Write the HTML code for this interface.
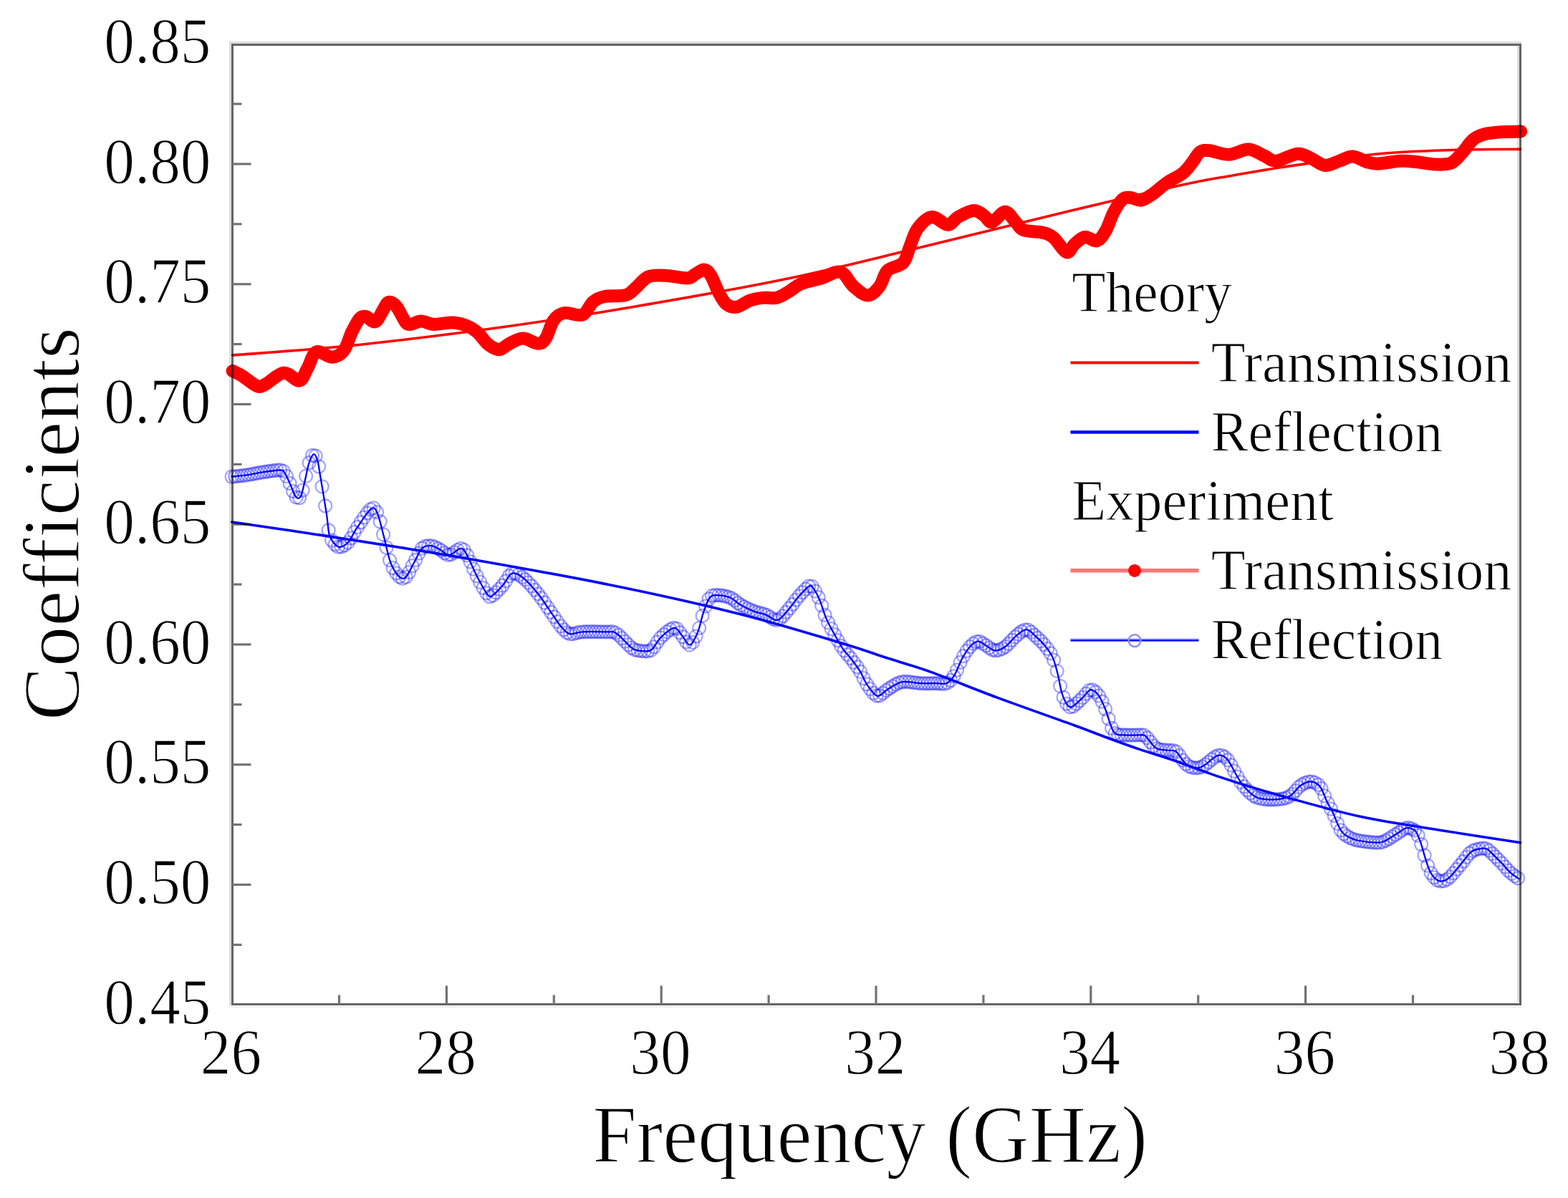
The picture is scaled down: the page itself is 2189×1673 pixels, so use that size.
<!DOCTYPE html>
<html><head><meta charset="utf-8"><title>Coefficients vs Frequency</title><style>html,body{margin:0;padding:0;background:#fff;}svg{display:block;}</style></head><body>
<svg width="2189" height="1673" viewBox="0 0 2189 1673">
<rect width="2189" height="1673" fill="#fff"/>
<g stroke="#dcdcdc" stroke-width="3" fill="none">
<line x1="321.5" y1="58" x2="321.5" y2="1404"/>
<line x1="321" y1="59.5" x2="2124" y2="59.5"/>
<line x1="2119.5" y1="64" x2="2119.5" y2="1400"/>
</g>
<line x1="321" y1="1406" x2="2124" y2="1406" stroke="#ebebeb" stroke-width="2"/>
<g stroke="#646464" stroke-width="3" fill="none">
<rect x="324.5" y="62.5" width="1798" height="1340"/>
</g>
<g stroke="#727272" stroke-width="3.2">
<line x1="324.5" y1="1319.4" x2="337.5" y2="1319.4"/>
<line x1="324.5" y1="1235.5" x2="350.5" y2="1235.5"/>
<line x1="324.5" y1="1151.6" x2="337.5" y2="1151.6"/>
<line x1="324.5" y1="1067.8" x2="350.5" y2="1067.8"/>
<line x1="324.5" y1="983.9" x2="337.5" y2="983.9"/>
<line x1="324.5" y1="900.0" x2="350.5" y2="900.0"/>
<line x1="324.5" y1="816.1" x2="337.5" y2="816.1"/>
<line x1="324.5" y1="732.2" x2="350.5" y2="732.2"/>
<line x1="324.5" y1="648.4" x2="337.5" y2="648.4"/>
<line x1="324.5" y1="564.5" x2="350.5" y2="564.5"/>
<line x1="324.5" y1="480.6" x2="337.5" y2="480.6"/>
<line x1="324.5" y1="396.8" x2="350.5" y2="396.8"/>
<line x1="324.5" y1="312.9" x2="337.5" y2="312.9"/>
<line x1="324.5" y1="229.0" x2="350.5" y2="229.0"/>
<line x1="324.5" y1="145.1" x2="337.5" y2="145.1"/>
<line x1="473.5" y1="1402.5" x2="473.5" y2="1389.5"/>
<line x1="623.4" y1="1402.5" x2="623.4" y2="1376.5"/>
<line x1="773.3" y1="1402.5" x2="773.3" y2="1389.5"/>
<line x1="923.2" y1="1402.5" x2="923.2" y2="1376.5"/>
<line x1="1073.1" y1="1402.5" x2="1073.1" y2="1389.5"/>
<line x1="1223.0" y1="1402.5" x2="1223.0" y2="1376.5"/>
<line x1="1372.9" y1="1402.5" x2="1372.9" y2="1389.5"/>
<line x1="1522.8" y1="1402.5" x2="1522.8" y2="1376.5"/>
<line x1="1672.7" y1="1402.5" x2="1672.7" y2="1389.5"/>
<line x1="1822.6" y1="1402.5" x2="1822.6" y2="1376.5"/>
<line x1="1972.5" y1="1402.5" x2="1972.5" y2="1389.5"/>
</g>
<defs><clipPath id="cp"><rect x="300" y="40" width="1850" height="1370"/></clipPath></defs>
<g clip-path="url(#cp)" fill="none" stroke-linecap="round" stroke-linejoin="round" style="mix-blend-mode:multiply">
<g stroke="rgba(0,0,255,0.36)" stroke-width="2.3" fill="none">
<circle cx="323.6" cy="665.7" r="9.0"/>
<circle cx="328.1" cy="665.3" r="9.0"/>
<circle cx="332.6" cy="664.8" r="9.0"/>
<circle cx="337.1" cy="664.3" r="9.0"/>
<circle cx="341.6" cy="663.8" r="9.0"/>
<circle cx="346.1" cy="663.1" r="9.0"/>
<circle cx="350.6" cy="662.4" r="9.0"/>
<circle cx="355.1" cy="661.5" r="9.0"/>
<circle cx="359.6" cy="660.7" r="9.0"/>
<circle cx="364.1" cy="659.9" r="9.0"/>
<circle cx="368.6" cy="659.2" r="9.0"/>
<circle cx="373.1" cy="658.5" r="9.0"/>
<circle cx="377.6" cy="657.8" r="9.0"/>
<circle cx="382.1" cy="657.2" r="9.0"/>
<circle cx="386.6" cy="656.7" r="9.0"/>
<circle cx="391.1" cy="656.5" r="9.0"/>
<circle cx="395.6" cy="657.9" r="9.0"/>
<circle cx="400.1" cy="665.1" r="9.0"/>
<circle cx="404.6" cy="675.0" r="9.0"/>
<circle cx="409.1" cy="686.1" r="9.0"/>
<circle cx="413.6" cy="694.4" r="9.0"/>
<circle cx="418.1" cy="695.3" r="9.0"/>
<circle cx="422.6" cy="684.6" r="9.0"/>
<circle cx="427.1" cy="664.9" r="9.0"/>
<circle cx="431.6" cy="646.2" r="9.0"/>
<circle cx="436.1" cy="636.0" r="9.0"/>
<circle cx="440.6" cy="636.6" r="9.0"/>
<circle cx="445.1" cy="651.5" r="9.0"/>
<circle cx="449.6" cy="679.4" r="9.0"/>
<circle cx="454.1" cy="706.5" r="9.0"/>
<circle cx="458.6" cy="740.5" r="9.0"/>
<circle cx="463.1" cy="754.6" r="9.0"/>
<circle cx="467.6" cy="760.2" r="9.0"/>
<circle cx="472.1" cy="763.7" r="9.0"/>
<circle cx="476.6" cy="763.5" r="9.0"/>
<circle cx="481.1" cy="761.3" r="9.0"/>
<circle cx="485.6" cy="757.6" r="9.0"/>
<circle cx="490.1" cy="751.5" r="9.0"/>
<circle cx="494.6" cy="743.2" r="9.0"/>
<circle cx="499.1" cy="736.1" r="9.0"/>
<circle cx="503.6" cy="729.3" r="9.0"/>
<circle cx="508.1" cy="722.6" r="9.0"/>
<circle cx="512.6" cy="716.5" r="9.0"/>
<circle cx="517.1" cy="711.4" r="9.0"/>
<circle cx="521.6" cy="709.4" r="9.0"/>
<circle cx="526.1" cy="715.2" r="9.0"/>
<circle cx="530.6" cy="728.5" r="9.0"/>
<circle cx="535.1" cy="746.4" r="9.0"/>
<circle cx="539.6" cy="764.8" r="9.0"/>
<circle cx="544.1" cy="782.4" r="9.0"/>
<circle cx="548.6" cy="793.2" r="9.0"/>
<circle cx="553.1" cy="800.4" r="9.0"/>
<circle cx="557.6" cy="805.5" r="9.0"/>
<circle cx="562.1" cy="807.9" r="9.0"/>
<circle cx="566.6" cy="805.8" r="9.0"/>
<circle cx="571.1" cy="799.1" r="9.0"/>
<circle cx="575.6" cy="790.2" r="9.0"/>
<circle cx="580.1" cy="782.0" r="9.0"/>
<circle cx="584.6" cy="772.6" r="9.0"/>
<circle cx="589.1" cy="765.7" r="9.0"/>
<circle cx="593.6" cy="762.9" r="9.0"/>
<circle cx="598.1" cy="762.1" r="9.0"/>
<circle cx="602.6" cy="762.3" r="9.0"/>
<circle cx="607.1" cy="763.8" r="9.0"/>
<circle cx="611.6" cy="766.1" r="9.0"/>
<circle cx="616.1" cy="768.7" r="9.0"/>
<circle cx="620.6" cy="772.2" r="9.0"/>
<circle cx="625.1" cy="774.8" r="9.0"/>
<circle cx="629.6" cy="774.3" r="9.0"/>
<circle cx="634.1" cy="771.4" r="9.0"/>
<circle cx="638.6" cy="768.1" r="9.0"/>
<circle cx="643.1" cy="765.9" r="9.0"/>
<circle cx="647.6" cy="767.9" r="9.0"/>
<circle cx="652.1" cy="775.5" r="9.0"/>
<circle cx="656.6" cy="784.5" r="9.0"/>
<circle cx="661.1" cy="794.7" r="9.0"/>
<circle cx="665.6" cy="804.3" r="9.0"/>
<circle cx="670.1" cy="812.9" r="9.0"/>
<circle cx="674.6" cy="821.0" r="9.0"/>
<circle cx="679.1" cy="828.3" r="9.0"/>
<circle cx="683.6" cy="833.2" r="9.0"/>
<circle cx="688.1" cy="831.3" r="9.0"/>
<circle cx="692.6" cy="827.4" r="9.0"/>
<circle cx="697.1" cy="822.7" r="9.0"/>
<circle cx="701.6" cy="817.7" r="9.0"/>
<circle cx="706.1" cy="811.4" r="9.0"/>
<circle cx="710.6" cy="804.3" r="9.0"/>
<circle cx="715.1" cy="800.6" r="9.0"/>
<circle cx="719.6" cy="800.6" r="9.0"/>
<circle cx="724.1" cy="802.6" r="9.0"/>
<circle cx="728.6" cy="805.7" r="9.0"/>
<circle cx="733.1" cy="809.3" r="9.0"/>
<circle cx="737.6" cy="813.6" r="9.0"/>
<circle cx="742.1" cy="818.5" r="9.0"/>
<circle cx="746.6" cy="823.8" r="9.0"/>
<circle cx="751.1" cy="829.3" r="9.0"/>
<circle cx="755.6" cy="835.2" r="9.0"/>
<circle cx="760.1" cy="841.6" r="9.0"/>
<circle cx="764.6" cy="848.3" r="9.0"/>
<circle cx="769.1" cy="855.0" r="9.0"/>
<circle cx="773.6" cy="861.5" r="9.0"/>
<circle cx="778.1" cy="868.1" r="9.0"/>
<circle cx="782.6" cy="874.3" r="9.0"/>
<circle cx="787.1" cy="879.4" r="9.0"/>
<circle cx="791.6" cy="883.5" r="9.0"/>
<circle cx="796.1" cy="885.4" r="9.0"/>
<circle cx="800.6" cy="885.1" r="9.0"/>
<circle cx="805.1" cy="883.8" r="9.0"/>
<circle cx="809.6" cy="882.8" r="9.0"/>
<circle cx="814.1" cy="882.4" r="9.0"/>
<circle cx="818.6" cy="882.2" r="9.0"/>
<circle cx="823.1" cy="882.2" r="9.0"/>
<circle cx="827.6" cy="882.2" r="9.0"/>
<circle cx="832.1" cy="882.2" r="9.0"/>
<circle cx="836.6" cy="882.3" r="9.0"/>
<circle cx="841.1" cy="882.3" r="9.0"/>
<circle cx="845.6" cy="882.4" r="9.0"/>
<circle cx="850.1" cy="882.4" r="9.0"/>
<circle cx="854.6" cy="882.2" r="9.0"/>
<circle cx="859.1" cy="883.6" r="9.0"/>
<circle cx="863.6" cy="886.9" r="9.0"/>
<circle cx="868.1" cy="891.2" r="9.0"/>
<circle cx="872.6" cy="895.8" r="9.0"/>
<circle cx="877.1" cy="900.4" r="9.0"/>
<circle cx="881.6" cy="904.6" r="9.0"/>
<circle cx="886.1" cy="907.3" r="9.0"/>
<circle cx="890.6" cy="908.4" r="9.0"/>
<circle cx="895.1" cy="909.1" r="9.0"/>
<circle cx="899.6" cy="909.4" r="9.0"/>
<circle cx="904.1" cy="909.5" r="9.0"/>
<circle cx="908.6" cy="908.1" r="9.0"/>
<circle cx="913.1" cy="903.4" r="9.0"/>
<circle cx="917.6" cy="896.6" r="9.0"/>
<circle cx="922.1" cy="890.6" r="9.0"/>
<circle cx="926.6" cy="886.3" r="9.0"/>
<circle cx="931.1" cy="882.4" r="9.0"/>
<circle cx="935.6" cy="879.2" r="9.0"/>
<circle cx="940.1" cy="877.0" r="9.0"/>
<circle cx="944.6" cy="877.8" r="9.0"/>
<circle cx="949.1" cy="883.4" r="9.0"/>
<circle cx="953.6" cy="889.4" r="9.0"/>
<circle cx="958.1" cy="896.5" r="9.0"/>
<circle cx="962.6" cy="900.6" r="9.0"/>
<circle cx="967.1" cy="897.1" r="9.0"/>
<circle cx="971.6" cy="888.6" r="9.0"/>
<circle cx="976.1" cy="877.1" r="9.0"/>
<circle cx="980.6" cy="859.9" r="9.0"/>
<circle cx="985.1" cy="846.6" r="9.0"/>
<circle cx="989.6" cy="836.4" r="9.0"/>
<circle cx="994.1" cy="831.9" r="9.0"/>
<circle cx="998.6" cy="831.2" r="9.0"/>
<circle cx="1003.1" cy="831.2" r="9.0"/>
<circle cx="1007.6" cy="831.7" r="9.0"/>
<circle cx="1012.1" cy="832.5" r="9.0"/>
<circle cx="1016.6" cy="833.6" r="9.0"/>
<circle cx="1021.1" cy="835.4" r="9.0"/>
<circle cx="1025.6" cy="838.5" r="9.0"/>
<circle cx="1030.1" cy="842.2" r="9.0"/>
<circle cx="1034.6" cy="845.1" r="9.0"/>
<circle cx="1039.1" cy="847.5" r="9.0"/>
<circle cx="1043.6" cy="849.8" r="9.0"/>
<circle cx="1048.1" cy="851.9" r="9.0"/>
<circle cx="1052.6" cy="853.7" r="9.0"/>
<circle cx="1057.1" cy="855.1" r="9.0"/>
<circle cx="1061.6" cy="856.3" r="9.0"/>
<circle cx="1066.1" cy="857.5" r="9.0"/>
<circle cx="1070.6" cy="859.2" r="9.0"/>
<circle cx="1075.1" cy="861.9" r="9.0"/>
<circle cx="1079.6" cy="864.8" r="9.0"/>
<circle cx="1084.1" cy="866.1" r="9.0"/>
<circle cx="1088.6" cy="864.4" r="9.0"/>
<circle cx="1093.1" cy="860.3" r="9.0"/>
<circle cx="1097.6" cy="855.0" r="9.0"/>
<circle cx="1102.1" cy="849.5" r="9.0"/>
<circle cx="1106.6" cy="844.0" r="9.0"/>
<circle cx="1111.1" cy="837.8" r="9.0"/>
<circle cx="1115.6" cy="832.3" r="9.0"/>
<circle cx="1120.1" cy="827.3" r="9.0"/>
<circle cx="1124.6" cy="822.7" r="9.0"/>
<circle cx="1129.1" cy="818.7" r="9.0"/>
<circle cx="1133.6" cy="818.9" r="9.0"/>
<circle cx="1138.1" cy="825.6" r="9.0"/>
<circle cx="1142.6" cy="834.2" r="9.0"/>
<circle cx="1147.1" cy="845.6" r="9.0"/>
<circle cx="1151.6" cy="859.0" r="9.0"/>
<circle cx="1156.1" cy="869.4" r="9.0"/>
<circle cx="1160.6" cy="878.1" r="9.0"/>
<circle cx="1165.1" cy="886.2" r="9.0"/>
<circle cx="1169.6" cy="894.3" r="9.0"/>
<circle cx="1174.1" cy="902.0" r="9.0"/>
<circle cx="1178.6" cy="908.6" r="9.0"/>
<circle cx="1183.1" cy="914.0" r="9.0"/>
<circle cx="1187.6" cy="919.2" r="9.0"/>
<circle cx="1192.1" cy="925.1" r="9.0"/>
<circle cx="1196.6" cy="931.3" r="9.0"/>
<circle cx="1201.1" cy="938.1" r="9.0"/>
<circle cx="1205.6" cy="947.2" r="9.0"/>
<circle cx="1210.1" cy="955.5" r="9.0"/>
<circle cx="1214.6" cy="962.1" r="9.0"/>
<circle cx="1219.1" cy="967.9" r="9.0"/>
<circle cx="1223.6" cy="971.5" r="9.0"/>
<circle cx="1228.1" cy="971.4" r="9.0"/>
<circle cx="1232.6" cy="968.0" r="9.0"/>
<circle cx="1237.1" cy="964.1" r="9.0"/>
<circle cx="1241.6" cy="961.2" r="9.0"/>
<circle cx="1246.1" cy="958.3" r="9.0"/>
<circle cx="1250.6" cy="955.6" r="9.0"/>
<circle cx="1255.1" cy="953.5" r="9.0"/>
<circle cx="1259.6" cy="952.2" r="9.0"/>
<circle cx="1264.1" cy="951.9" r="9.0"/>
<circle cx="1268.6" cy="952.2" r="9.0"/>
<circle cx="1273.1" cy="952.8" r="9.0"/>
<circle cx="1277.6" cy="953.4" r="9.0"/>
<circle cx="1282.1" cy="954.0" r="9.0"/>
<circle cx="1286.6" cy="954.3" r="9.0"/>
<circle cx="1291.1" cy="954.3" r="9.0"/>
<circle cx="1295.6" cy="954.3" r="9.0"/>
<circle cx="1300.1" cy="954.3" r="9.0"/>
<circle cx="1304.6" cy="954.2" r="9.0"/>
<circle cx="1309.1" cy="954.3" r="9.0"/>
<circle cx="1313.6" cy="954.8" r="9.0"/>
<circle cx="1318.1" cy="955.0" r="9.0"/>
<circle cx="1322.6" cy="953.6" r="9.0"/>
<circle cx="1327.1" cy="950.2" r="9.0"/>
<circle cx="1331.6" cy="944.3" r="9.0"/>
<circle cx="1336.1" cy="935.6" r="9.0"/>
<circle cx="1340.6" cy="925.0" r="9.0"/>
<circle cx="1345.1" cy="916.2" r="9.0"/>
<circle cx="1349.6" cy="909.0" r="9.0"/>
<circle cx="1354.1" cy="903.2" r="9.0"/>
<circle cx="1358.6" cy="898.9" r="9.0"/>
<circle cx="1363.1" cy="896.2" r="9.0"/>
<circle cx="1367.6" cy="896.0" r="9.0"/>
<circle cx="1372.1" cy="898.6" r="9.0"/>
<circle cx="1376.6" cy="901.4" r="9.0"/>
<circle cx="1381.1" cy="904.6" r="9.0"/>
<circle cx="1385.6" cy="907.5" r="9.0"/>
<circle cx="1390.1" cy="908.5" r="9.0"/>
<circle cx="1394.6" cy="907.7" r="9.0"/>
<circle cx="1399.1" cy="905.8" r="9.0"/>
<circle cx="1403.6" cy="903.0" r="9.0"/>
<circle cx="1408.1" cy="899.0" r="9.0"/>
<circle cx="1412.6" cy="894.0" r="9.0"/>
<circle cx="1417.1" cy="889.4" r="9.0"/>
<circle cx="1421.6" cy="885.5" r="9.0"/>
<circle cx="1426.1" cy="882.0" r="9.0"/>
<circle cx="1430.6" cy="879.6" r="9.0"/>
<circle cx="1435.1" cy="879.7" r="9.0"/>
<circle cx="1439.6" cy="882.7" r="9.0"/>
<circle cx="1444.1" cy="887.0" r="9.0"/>
<circle cx="1448.6" cy="891.0" r="9.0"/>
<circle cx="1453.1" cy="895.3" r="9.0"/>
<circle cx="1457.6" cy="900.2" r="9.0"/>
<circle cx="1462.1" cy="905.8" r="9.0"/>
<circle cx="1466.6" cy="912.3" r="9.0"/>
<circle cx="1471.1" cy="921.8" r="9.0"/>
<circle cx="1475.6" cy="937.1" r="9.0"/>
<circle cx="1480.1" cy="958.1" r="9.0"/>
<circle cx="1484.6" cy="973.9" r="9.0"/>
<circle cx="1489.1" cy="982.8" r="9.0"/>
<circle cx="1493.6" cy="987.4" r="9.0"/>
<circle cx="1498.1" cy="986.3" r="9.0"/>
<circle cx="1502.6" cy="982.7" r="9.0"/>
<circle cx="1507.1" cy="978.5" r="9.0"/>
<circle cx="1511.6" cy="974.1" r="9.0"/>
<circle cx="1516.1" cy="968.9" r="9.0"/>
<circle cx="1520.6" cy="964.1" r="9.0"/>
<circle cx="1525.1" cy="963.5" r="9.0"/>
<circle cx="1529.6" cy="966.5" r="9.0"/>
<circle cx="1534.1" cy="971.7" r="9.0"/>
<circle cx="1538.6" cy="979.8" r="9.0"/>
<circle cx="1543.1" cy="990.2" r="9.0"/>
<circle cx="1547.6" cy="1003.8" r="9.0"/>
<circle cx="1552.1" cy="1016.9" r="9.0"/>
<circle cx="1556.6" cy="1024.0" r="9.0"/>
<circle cx="1561.1" cy="1026.2" r="9.0"/>
<circle cx="1565.6" cy="1026.3" r="9.0"/>
<circle cx="1570.1" cy="1026.5" r="9.0"/>
<circle cx="1574.6" cy="1026.7" r="9.0"/>
<circle cx="1579.1" cy="1026.7" r="9.0"/>
<circle cx="1583.6" cy="1026.6" r="9.0"/>
<circle cx="1588.1" cy="1026.4" r="9.0"/>
<circle cx="1592.6" cy="1026.4" r="9.0"/>
<circle cx="1597.1" cy="1026.7" r="9.0"/>
<circle cx="1601.6" cy="1030.5" r="9.0"/>
<circle cx="1606.1" cy="1036.2" r="9.0"/>
<circle cx="1610.6" cy="1041.7" r="9.0"/>
<circle cx="1615.1" cy="1045.4" r="9.0"/>
<circle cx="1619.6" cy="1046.9" r="9.0"/>
<circle cx="1624.1" cy="1047.2" r="9.0"/>
<circle cx="1628.6" cy="1047.7" r="9.0"/>
<circle cx="1633.1" cy="1047.9" r="9.0"/>
<circle cx="1637.6" cy="1048.1" r="9.0"/>
<circle cx="1642.1" cy="1049.7" r="9.0"/>
<circle cx="1646.6" cy="1055.1" r="9.0"/>
<circle cx="1651.1" cy="1061.7" r="9.0"/>
<circle cx="1655.6" cy="1067.0" r="9.0"/>
<circle cx="1660.1" cy="1070.4" r="9.0"/>
<circle cx="1664.6" cy="1071.8" r="9.0"/>
<circle cx="1669.1" cy="1072.3" r="9.0"/>
<circle cx="1673.6" cy="1072.2" r="9.0"/>
<circle cx="1678.1" cy="1070.7" r="9.0"/>
<circle cx="1682.6" cy="1067.8" r="9.0"/>
<circle cx="1687.1" cy="1064.3" r="9.0"/>
<circle cx="1691.6" cy="1060.5" r="9.0"/>
<circle cx="1696.1" cy="1057.1" r="9.0"/>
<circle cx="1700.6" cy="1054.9" r="9.0"/>
<circle cx="1705.1" cy="1054.8" r="9.0"/>
<circle cx="1709.6" cy="1057.0" r="9.0"/>
<circle cx="1714.1" cy="1061.3" r="9.0"/>
<circle cx="1718.6" cy="1068.4" r="9.0"/>
<circle cx="1723.1" cy="1076.9" r="9.0"/>
<circle cx="1727.6" cy="1084.8" r="9.0"/>
<circle cx="1732.1" cy="1092.4" r="9.0"/>
<circle cx="1736.6" cy="1098.4" r="9.0"/>
<circle cx="1741.1" cy="1103.3" r="9.0"/>
<circle cx="1745.6" cy="1107.7" r="9.0"/>
<circle cx="1750.1" cy="1111.3" r="9.0"/>
<circle cx="1754.6" cy="1113.7" r="9.0"/>
<circle cx="1759.1" cy="1115.1" r="9.0"/>
<circle cx="1763.6" cy="1115.9" r="9.0"/>
<circle cx="1768.1" cy="1116.3" r="9.0"/>
<circle cx="1772.6" cy="1116.5" r="9.0"/>
<circle cx="1777.1" cy="1116.5" r="9.0"/>
<circle cx="1781.6" cy="1116.4" r="9.0"/>
<circle cx="1786.1" cy="1116.1" r="9.0"/>
<circle cx="1790.6" cy="1115.4" r="9.0"/>
<circle cx="1795.1" cy="1114.3" r="9.0"/>
<circle cx="1799.6" cy="1112.4" r="9.0"/>
<circle cx="1804.1" cy="1109.2" r="9.0"/>
<circle cx="1808.6" cy="1104.3" r="9.0"/>
<circle cx="1813.1" cy="1099.1" r="9.0"/>
<circle cx="1817.6" cy="1095.7" r="9.0"/>
<circle cx="1822.1" cy="1093.3" r="9.0"/>
<circle cx="1826.6" cy="1091.8" r="9.0"/>
<circle cx="1831.1" cy="1091.6" r="9.0"/>
<circle cx="1835.6" cy="1092.9" r="9.0"/>
<circle cx="1840.1" cy="1095.8" r="9.0"/>
<circle cx="1844.6" cy="1101.2" r="9.0"/>
<circle cx="1849.1" cy="1111.5" r="9.0"/>
<circle cx="1853.6" cy="1121.6" r="9.0"/>
<circle cx="1858.1" cy="1129.7" r="9.0"/>
<circle cx="1862.6" cy="1139.0" r="9.0"/>
<circle cx="1867.1" cy="1150.1" r="9.0"/>
<circle cx="1871.6" cy="1159.3" r="9.0"/>
<circle cx="1876.1" cy="1164.5" r="9.0"/>
<circle cx="1880.6" cy="1167.7" r="9.0"/>
<circle cx="1885.1" cy="1170.2" r="9.0"/>
<circle cx="1889.6" cy="1172.1" r="9.0"/>
<circle cx="1894.1" cy="1173.3" r="9.0"/>
<circle cx="1898.6" cy="1174.2" r="9.0"/>
<circle cx="1903.1" cy="1174.9" r="9.0"/>
<circle cx="1907.6" cy="1175.5" r="9.0"/>
<circle cx="1912.1" cy="1176.0" r="9.0"/>
<circle cx="1916.6" cy="1176.4" r="9.0"/>
<circle cx="1921.1" cy="1176.7" r="9.0"/>
<circle cx="1925.6" cy="1176.7" r="9.0"/>
<circle cx="1930.1" cy="1175.8" r="9.0"/>
<circle cx="1934.6" cy="1173.8" r="9.0"/>
<circle cx="1939.1" cy="1171.2" r="9.0"/>
<circle cx="1943.6" cy="1168.4" r="9.0"/>
<circle cx="1948.1" cy="1165.5" r="9.0"/>
<circle cx="1952.6" cy="1162.6" r="9.0"/>
<circle cx="1957.1" cy="1159.5" r="9.0"/>
<circle cx="1961.6" cy="1156.9" r="9.0"/>
<circle cx="1966.1" cy="1156.0" r="9.0"/>
<circle cx="1970.6" cy="1157.3" r="9.0"/>
<circle cx="1975.1" cy="1159.7" r="9.0"/>
<circle cx="1979.6" cy="1166.7" r="9.0"/>
<circle cx="1984.1" cy="1179.1" r="9.0"/>
<circle cx="1988.6" cy="1194.5" r="9.0"/>
<circle cx="1993.1" cy="1208.8" r="9.0"/>
<circle cx="1997.6" cy="1219.3" r="9.0"/>
<circle cx="2002.1" cy="1225.4" r="9.0"/>
<circle cx="2006.6" cy="1229.2" r="9.0"/>
<circle cx="2011.1" cy="1230.6" r="9.0"/>
<circle cx="2015.6" cy="1230.2" r="9.0"/>
<circle cx="2020.1" cy="1228.1" r="9.0"/>
<circle cx="2024.6" cy="1224.4" r="9.0"/>
<circle cx="2029.1" cy="1219.4" r="9.0"/>
<circle cx="2033.6" cy="1214.0" r="9.0"/>
<circle cx="2038.1" cy="1208.5" r="9.0"/>
<circle cx="2042.6" cy="1203.0" r="9.0"/>
<circle cx="2047.1" cy="1197.1" r="9.0"/>
<circle cx="2051.6" cy="1191.7" r="9.0"/>
<circle cx="2056.1" cy="1188.2" r="9.0"/>
<circle cx="2060.6" cy="1186.4" r="9.0"/>
<circle cx="2065.1" cy="1185.4" r="9.0"/>
<circle cx="2069.6" cy="1184.6" r="9.0"/>
<circle cx="2074.1" cy="1185.0" r="9.0"/>
<circle cx="2078.6" cy="1187.6" r="9.0"/>
<circle cx="2083.1" cy="1192.0" r="9.0"/>
<circle cx="2087.6" cy="1196.5" r="9.0"/>
<circle cx="2092.1" cy="1201.0" r="9.0"/>
<circle cx="2096.6" cy="1205.6" r="9.0"/>
<circle cx="2101.1" cy="1210.6" r="9.0"/>
<circle cx="2105.6" cy="1215.7" r="9.0"/>
<circle cx="2110.1" cy="1219.9" r="9.0"/>
<circle cx="2114.6" cy="1223.3" r="9.0"/>
<circle cx="2119.1" cy="1226.3" r="9.0"/>
</g>
<path d="M323.7,665.7 C327.1,665.3 337.1,664.5 344.3,663.4 C351.5,662.3 359.5,660.5 367.1,659.4 C374.7,658.2 385.1,656.5 390.0,656.5 C394.9,656.5 394.3,656.2 396.8,659.4 C399.3,662.5 402.1,669.7 404.8,675.4 C407.5,681.1 410.3,690.6 412.8,693.6 C415.3,696.6 417.5,697.0 419.6,693.6 C421.7,690.2 423.4,680.7 425.3,673.1 C427.2,665.5 428.9,654.5 431.0,648.0 C433.1,641.5 435.8,634.9 437.9,634.3 C440.0,633.7 442.1,639.5 443.6,644.5 C445.1,649.5 445.7,656.2 447.0,664.0 C448.3,671.8 450.1,682.1 451.6,691.4 C453.1,700.7 454.9,710.9 456.2,720.0 C457.5,729.1 458.1,740.0 459.6,746.2 C461.1,752.4 462.6,754.0 465.0,757.0 C467.4,760.0 470.2,764.0 473.8,764.0 C477.4,764.0 482.6,761.0 486.5,756.7 C490.4,752.5 492.3,746.1 497.5,738.5 C502.7,730.9 512.7,714.7 517.6,711.0 C522.5,707.3 523.7,710.1 526.7,716.5 C529.8,722.9 532.5,737.2 535.9,749.4 C539.2,761.6 542.2,779.9 546.8,789.6 C551.4,799.4 558.1,808.5 563.3,807.9 C568.5,807.3 573.6,793.0 577.9,786.0 C582.2,779.0 584.9,769.9 588.9,765.9 C592.9,761.9 597.4,761.9 601.7,762.2 C606.0,762.5 610.2,765.6 614.5,767.7 C618.8,769.8 622.3,775.3 627.2,775.0 C632.1,774.7 639.4,765.6 643.7,765.9 C648.0,766.2 649.1,770.4 652.8,776.8 C656.4,783.2 661.0,795.5 665.6,804.3 C670.2,813.1 676.6,825.2 680.2,829.8 C683.9,834.4 683.8,833.8 687.5,831.7 C691.2,829.6 697.6,822.2 702.2,817.0 C706.8,811.8 710.1,802.1 715.0,800.6 C719.9,799.1 725.3,803.0 731.4,807.9 C737.5,812.8 744.8,821.4 751.5,829.8 C758.2,838.2 766.0,850.6 771.4,858.3 C776.8,866.0 779.9,871.3 783.9,875.8 C787.9,880.3 790.7,884.2 795.6,885.3 C800.5,886.4 804.1,882.9 813.1,882.4 C822.1,881.9 842.3,882.4 849.6,882.4 C856.9,882.4 854.5,881.8 857.0,882.6 C859.5,883.5 861.9,885.5 864.3,887.5 C866.7,889.5 869.2,892.4 871.6,894.8 C874.0,897.2 876.5,900.0 878.9,902.1 C881.3,904.2 882.7,906.1 886.2,907.3 C889.7,908.5 896.0,909.4 900.0,909.4 C904.0,909.4 906.1,910.3 910.0,907.0 C913.9,903.7 917.9,894.6 923.1,889.6 C928.3,884.6 936.5,877.1 941.4,876.8 C946.3,876.5 948.6,883.8 952.3,887.8 C955.9,891.8 959.6,901.5 963.3,900.6 C967.0,899.7 971.2,889.6 974.3,882.3 C977.3,875.0 978.9,864.6 981.6,856.7 C984.3,848.8 987.4,839.0 990.7,834.8 C994.1,830.5 996.8,831.2 1001.7,831.2 C1006.6,831.2 1014.7,832.7 1019.9,834.8 C1025.1,836.9 1027.5,841.0 1032.7,844.0 C1037.9,847.0 1044.9,850.7 1051.0,853.1 C1057.1,855.5 1063.5,856.5 1069.3,858.6 C1075.1,860.7 1080.2,867.4 1085.7,865.9 C1091.2,864.4 1097.3,854.9 1102.2,849.4 C1107.1,843.9 1110.4,838.2 1115.0,833.0 C1119.6,827.8 1126.3,820.4 1129.6,818.4 C1132.9,816.4 1132.6,817.7 1135.0,820.9 C1137.4,824.1 1141.1,830.6 1144.2,837.7 C1147.3,844.8 1149.9,855.5 1153.4,863.6 C1156.9,871.7 1161.2,879.1 1165.1,886.2 C1169.0,893.3 1173.0,900.6 1176.9,906.3 C1180.8,912.0 1184.6,915.2 1188.6,920.5 C1192.6,925.8 1197.5,932.3 1201.1,938.1 C1204.7,943.9 1206.1,949.8 1210.0,955.4 C1213.9,961.0 1219.7,970.7 1224.6,971.9 C1229.5,973.1 1233.4,966.0 1239.2,962.7 C1245.0,959.4 1251.6,953.7 1259.2,952.3 C1266.8,950.9 1276.9,953.9 1284.8,954.2 C1292.7,954.5 1300.6,954.2 1306.7,954.2 C1312.8,954.2 1317.1,956.0 1321.4,954.2 C1325.7,952.4 1328.7,949.0 1332.3,943.2 C1335.9,937.4 1339.6,926.1 1343.3,919.4 C1347.0,912.7 1350.6,907.0 1354.3,903.0 C1358.0,899.0 1361.5,896.0 1365.2,895.7 C1368.9,895.4 1372.2,899.1 1376.2,901.2 C1380.2,903.3 1384.4,908.2 1389.0,908.5 C1393.6,908.8 1398.7,906.4 1403.6,903.0 C1408.5,899.6 1413.3,892.4 1418.2,888.4 C1423.1,884.4 1428.2,879.2 1432.8,879.2 C1437.4,879.2 1441.3,884.7 1445.6,888.4 C1449.9,892.1 1454.4,896.3 1458.4,901.2 C1462.4,906.1 1466.4,910.9 1469.4,917.6 C1472.5,924.3 1474.6,933.2 1476.7,941.4 C1478.8,949.6 1480.1,960.0 1482.2,967.0 C1484.3,974.0 1487.1,980.1 1489.5,983.4 C1491.9,986.7 1493.1,988.5 1496.8,987.0 C1500.5,985.5 1507.1,978.2 1511.4,974.3 C1515.7,970.3 1518.8,963.9 1522.4,963.3 C1526.1,962.7 1529.9,966.1 1533.3,970.6 C1536.7,975.1 1539.4,981.4 1543.0,990.0 C1546.6,998.6 1550.3,1015.9 1554.8,1022.0 C1559.3,1028.1 1563.3,1025.8 1570.0,1026.5 C1576.7,1027.2 1589.9,1026.0 1595.0,1026.5 C1600.1,1027.0 1597.3,1026.2 1600.5,1029.3 C1603.7,1032.3 1609.4,1041.8 1614.0,1044.8 C1618.6,1047.8 1623.4,1046.8 1628.0,1047.6 C1632.6,1048.4 1637.8,1047.1 1641.6,1049.4 C1645.4,1051.7 1647.7,1057.8 1650.8,1061.3 C1653.9,1064.8 1656.2,1068.6 1660.0,1070.4 C1663.8,1072.2 1669.8,1072.7 1673.6,1072.2 C1677.4,1071.8 1678.2,1070.6 1682.7,1067.7 C1687.2,1064.8 1695.4,1056.1 1700.5,1054.9 C1705.6,1053.7 1709.0,1055.8 1713.3,1060.4 C1717.6,1065.0 1722.1,1075.9 1726.1,1082.3 C1730.0,1088.7 1732.1,1093.5 1737.0,1098.8 C1741.9,1104.1 1747.7,1111.1 1755.3,1114.0 C1762.9,1116.9 1775.1,1116.7 1782.7,1116.3 C1790.3,1115.9 1795.5,1114.8 1801.0,1111.6 C1806.5,1108.4 1810.7,1100.3 1815.6,1097.0 C1820.5,1093.7 1825.6,1091.2 1830.2,1091.5 C1834.8,1091.8 1839.3,1094.2 1843.0,1098.8 C1846.7,1103.4 1849.3,1113.0 1852.2,1118.9 C1855.1,1124.9 1858.1,1129.2 1860.6,1134.5 C1863.1,1139.8 1865.4,1146.4 1867.4,1150.8 C1869.5,1155.2 1870.6,1158.2 1872.9,1161.1 C1875.2,1164.0 1877.4,1165.9 1881.1,1168.0 C1884.8,1170.1 1888.0,1172.0 1894.8,1173.5 C1901.6,1175.0 1915.6,1176.5 1921.9,1176.7 C1928.2,1176.9 1928.3,1176.6 1932.9,1174.6 C1937.5,1172.6 1944.5,1167.6 1949.3,1164.7 C1954.0,1161.8 1958.3,1158.4 1961.4,1157.0 C1964.5,1155.6 1965.5,1155.8 1968.0,1156.5 C1970.5,1157.2 1974.2,1158.0 1976.7,1161.4 C1979.2,1164.8 1981.1,1170.5 1983.3,1176.7 C1985.5,1182.9 1987.7,1191.9 1989.9,1198.7 C1992.1,1205.5 1993.9,1212.4 1996.5,1217.3 C1999.1,1222.2 2002.4,1226.1 2005.3,1228.3 C2008.2,1230.5 2011.1,1230.9 2014.0,1230.5 C2016.9,1230.1 2019.7,1228.7 2022.8,1226.1 C2025.9,1223.5 2029.4,1218.9 2032.7,1215.1 C2036.0,1211.3 2039.0,1207.3 2042.5,1203.1 C2046.0,1198.9 2049.8,1192.8 2053.5,1189.9 C2057.2,1187.0 2060.8,1186.2 2064.5,1185.5 C2068.2,1184.8 2071.8,1183.8 2075.4,1185.5 C2079.1,1187.2 2082.8,1191.9 2086.4,1195.4 C2090.1,1198.9 2093.7,1202.5 2097.3,1206.3 C2101.0,1210.1 2104.5,1214.9 2108.3,1218.4 C2112.2,1221.9 2118.4,1225.7 2120.4,1227.2" stroke="#0000ff" stroke-width="2.3"/>
<path d="M323.7,729.0 C344.8,732.1 398.5,739.6 450.0,747.6 C501.5,755.6 566.0,765.3 632.7,776.8 C699.4,788.3 783.3,803.0 850.0,816.5 C916.7,830.0 977.7,843.6 1032.7,857.5 C1087.7,871.4 1146.3,889.7 1180.0,899.7 C1213.7,909.8 1214.8,911.3 1234.8,917.8 C1254.8,924.3 1273.9,929.2 1300.0,938.6 C1326.1,948.0 1358.1,961.5 1391.4,973.9 C1424.7,986.3 1474.3,1003.6 1500.0,1013.0 C1525.7,1022.4 1530.5,1024.6 1545.7,1030.2 C1560.9,1035.8 1576.2,1041.4 1591.4,1046.6 C1606.6,1051.8 1618.9,1055.0 1637.0,1061.3 C1655.1,1067.5 1675.7,1076.0 1700.0,1084.1 C1724.3,1092.2 1749.4,1100.3 1782.7,1109.7 C1816.0,1119.1 1862.2,1132.3 1900.0,1140.6 C1937.8,1148.8 1972.5,1153.2 2009.6,1159.2 C2046.7,1165.2 2103.8,1173.8 2122.6,1176.7" stroke="#0000ff" stroke-width="3.6"/>
<path d="M324.6,518.0 C326.7,519.1 331.8,520.9 337.4,524.4 C343.0,527.9 353.0,536.9 358.4,539.0 C363.8,541.1 363.7,540.0 370.0,537.0 C376.3,534.0 388.0,521.6 396.0,520.7 C404.0,519.8 412.3,532.6 417.8,531.7 C423.3,530.8 424.8,521.9 428.8,515.2 C432.8,508.5 435.8,494.2 441.6,491.5 C447.4,488.8 457.1,499.1 463.5,498.8 C469.9,498.5 475.4,495.4 480.0,489.6 C484.6,483.8 487.4,471.4 491.0,464.0 C494.6,456.6 498.6,448.6 501.9,444.9 C505.2,441.2 507.4,441.2 511.0,442.0 C514.6,442.8 519.8,450.9 523.8,449.4 C527.8,447.9 531.8,437.6 534.8,433.0 C537.8,428.4 539.0,422.9 542.0,422.0 C545.0,421.1 549.0,422.9 553.0,427.5 C557.0,432.1 562.5,445.1 565.8,449.4 C569.1,453.6 569.3,453.1 573.0,453.0 C576.7,452.9 582.3,448.5 587.8,448.5 C593.3,448.5 598.7,452.7 606.0,453.0 C613.3,453.3 624.0,450.1 631.6,450.4 C639.2,450.7 645.9,452.7 651.7,455.0 C657.5,457.3 661.4,459.8 666.3,464.0 C671.2,468.2 676.4,476.5 681.0,480.5 C685.6,484.5 690.5,486.7 693.7,487.8 C696.9,488.9 696.5,488.8 700.0,487.2 C703.5,485.6 709.4,480.4 714.6,478.0 C719.8,475.6 724.9,472.2 731.0,472.5 C737.1,472.8 746.0,479.8 751.2,479.8 C756.4,479.8 758.4,478.0 762.0,472.5 C765.6,467.0 768.7,452.9 773.0,447.0 C777.3,441.1 781.0,438.2 787.7,437.0 C794.4,435.8 806.6,442.2 813.3,439.6 C820.0,437.0 822.8,425.7 828.0,421.4 C833.2,417.1 836.8,415.5 844.4,414.0 C852.0,412.5 866.3,414.3 873.6,412.2 C880.9,410.1 883.0,405.6 888.2,401.3 C893.4,397.0 898.0,389.4 904.7,386.6 C911.4,383.9 919.3,384.5 928.4,384.8 C937.5,385.1 952.5,388.8 959.5,388.5 C966.5,388.2 966.4,385.0 970.4,383.0 C974.4,381.0 979.5,376.3 983.2,376.6 C986.9,376.9 989.0,379.5 992.4,384.8 C995.8,390.1 999.6,401.9 1003.3,408.6 C1006.9,415.3 1010.0,421.6 1014.3,425.0 C1018.6,428.4 1023.4,429.6 1028.9,428.7 C1034.4,427.8 1041.1,421.6 1047.2,419.5 C1053.3,417.4 1059.4,416.5 1065.5,415.9 C1071.6,415.3 1078.0,417.2 1083.7,415.9 C1089.5,414.6 1094.2,411.3 1100.0,408.0 C1105.8,404.7 1110.7,399.4 1118.3,396.2 C1125.9,393.0 1136.6,391.6 1145.7,388.9 C1154.8,386.1 1165.5,377.9 1173.1,379.7 C1180.7,381.5 1185.0,394.3 1191.4,399.8 C1197.8,405.3 1205.4,412.6 1211.5,412.6 C1217.6,412.6 1223.3,405.6 1227.9,399.8 C1232.5,394.0 1233.4,383.4 1238.9,377.9 C1244.4,372.4 1255.6,372.5 1260.8,367.0 C1266.0,361.5 1266.7,352.9 1270.0,345.0 C1273.3,337.1 1275.7,326.4 1280.9,319.4 C1286.1,312.4 1294.0,303.9 1301.0,303.0 C1308.0,302.1 1316.9,314.0 1323.0,314.0 C1329.1,314.0 1331.4,306.4 1337.5,303.0 C1343.6,299.6 1353.4,294.2 1359.5,293.9 C1365.6,293.6 1369.8,298.5 1374.0,301.2 C1378.2,303.9 1380.1,311.2 1385.0,310.3 C1389.9,309.4 1397.8,295.7 1403.3,295.7 C1408.8,295.7 1413.7,306.0 1418.0,310.3 C1422.3,314.6 1422.5,318.9 1428.9,321.3 C1435.3,323.8 1449.3,323.2 1456.3,325.0 C1463.3,326.8 1465.5,327.6 1471.0,332.2 C1476.5,336.8 1484.4,350.8 1489.2,352.3 C1494.0,353.8 1495.8,344.6 1500.0,341.0 C1504.2,337.4 1509.4,331.8 1514.6,331.0 C1519.8,330.2 1526.1,337.9 1531.0,336.4 C1535.9,334.9 1539.9,328.5 1543.9,321.8 C1547.9,315.1 1550.8,303.5 1554.8,296.2 C1558.8,288.9 1563.6,281.3 1567.6,277.9 C1571.6,274.5 1574.3,275.7 1578.6,276.0 C1582.9,276.3 1588.0,280.6 1593.2,279.7 C1598.4,278.8 1603.8,274.6 1609.6,270.6 C1615.4,266.7 1620.9,260.9 1627.9,256.0 C1634.9,251.1 1645.6,246.3 1651.7,241.4 C1657.8,236.5 1660.5,231.6 1664.5,226.7 C1668.5,221.8 1671.5,214.8 1675.4,212.1 C1679.4,209.4 1681.5,209.7 1688.2,210.3 C1694.9,210.9 1706.5,216.1 1715.6,215.8 C1724.7,215.5 1734.8,208.2 1743.0,208.5 C1751.2,208.8 1758.6,214.9 1765.0,217.6 C1771.4,220.3 1773.7,225.4 1781.4,224.9 C1789.2,224.4 1803.4,215.3 1811.5,214.7 C1819.6,214.0 1823.6,218.3 1830.0,221.0 C1836.4,223.7 1843.0,230.4 1849.7,231.0 C1856.4,231.6 1863.4,226.8 1869.9,224.7 C1876.4,222.6 1882.0,218.2 1888.5,218.5 C1895.0,218.8 1902.7,224.6 1908.7,226.3 C1914.7,228.0 1916.5,228.9 1924.3,228.6 C1932.1,228.3 1946.2,225.1 1955.3,224.7 C1964.3,224.3 1970.8,225.5 1978.6,226.3 C1986.4,227.1 1994.1,229.1 2001.9,229.4 C2009.7,229.7 2018.7,230.5 2025.2,227.9 C2031.7,225.3 2035.6,219.4 2040.8,213.9 C2046.0,208.4 2051.1,199.6 2056.3,195.2 C2061.5,190.8 2065.3,189.3 2071.8,187.5 C2078.3,185.7 2086.6,185.1 2095.1,184.4 C2103.6,183.8 2118.4,183.7 2123.1,183.6" stroke="#ff0000" stroke-width="18"/>
<path d="M324.6,496.0 C352.6,493.7 430.1,488.8 492.7,482.3 C555.3,475.8 635.0,465.9 700.0,457.0 C765.0,448.1 816.0,440.0 882.7,428.7 C949.4,417.4 1033.3,402.8 1100.0,389.0 C1166.7,375.2 1216.0,362.0 1282.7,346.0 C1349.4,330.0 1438.0,307.8 1500.0,293.0 C1562.0,278.2 1618.4,265.1 1654.8,257.2 C1691.2,249.3 1701.4,248.5 1718.4,245.4 C1735.4,242.3 1745.1,240.8 1757.0,238.8 C1768.9,236.8 1778.0,235.2 1790.0,233.4 C1802.0,231.6 1815.7,229.8 1829.0,227.8 C1842.3,225.8 1854.8,223.6 1870.0,221.5 C1885.2,219.4 1905.0,216.8 1920.0,215.2 C1935.0,213.6 1943.5,213.1 1960.0,212.2 C1976.5,211.3 2001.2,210.3 2019.0,209.7 C2036.8,209.1 2049.8,208.9 2067.0,208.7 C2084.2,208.5 2113.2,208.4 2122.5,208.4" stroke="#ff0000" stroke-width="3.6"/>
</g>
<text transform="translate(294.5,1429.8) scale(0.853,0.905)" text-anchor="end" font-size="100" font-family="'Liberation Serif', 'Times New Roman', serif" stroke="#fff" stroke-width="1.4">0.45</text>
<text transform="translate(294.5,1262.1) scale(0.853,0.905)" text-anchor="end" font-size="100" font-family="'Liberation Serif', 'Times New Roman', serif" stroke="#fff" stroke-width="1.4">0.50</text>
<text transform="translate(294.5,1094.3) scale(0.853,0.905)" text-anchor="end" font-size="100" font-family="'Liberation Serif', 'Times New Roman', serif" stroke="#fff" stroke-width="1.4">0.55</text>
<text transform="translate(294.5,926.6) scale(0.853,0.905)" text-anchor="end" font-size="100" font-family="'Liberation Serif', 'Times New Roman', serif" stroke="#fff" stroke-width="1.4">0.60</text>
<text transform="translate(294.5,758.9) scale(0.853,0.905)" text-anchor="end" font-size="100" font-family="'Liberation Serif', 'Times New Roman', serif" stroke="#fff" stroke-width="1.4">0.65</text>
<text transform="translate(294.5,591.1) scale(0.853,0.905)" text-anchor="end" font-size="100" font-family="'Liberation Serif', 'Times New Roman', serif" stroke="#fff" stroke-width="1.4">0.70</text>
<text transform="translate(294.5,423.4) scale(0.853,0.905)" text-anchor="end" font-size="100" font-family="'Liberation Serif', 'Times New Roman', serif" stroke="#fff" stroke-width="1.4">0.75</text>
<text transform="translate(294.5,255.6) scale(0.853,0.905)" text-anchor="end" font-size="100" font-family="'Liberation Serif', 'Times New Roman', serif" stroke="#fff" stroke-width="1.4">0.80</text>
<text transform="translate(294.5,87.8) scale(0.853,0.905)" text-anchor="end" font-size="100" font-family="'Liberation Serif', 'Times New Roman', serif" stroke="#fff" stroke-width="1.4">0.85</text>
<text transform="translate(322.4,1500.0) scale(0.853,0.905)" text-anchor="middle" font-size="100" font-family="'Liberation Serif', 'Times New Roman', serif" stroke="#fff" stroke-width="1.4">26</text>
<text transform="translate(622.2,1500.0) scale(0.853,0.905)" text-anchor="middle" font-size="100" font-family="'Liberation Serif', 'Times New Roman', serif" stroke="#fff" stroke-width="1.4">28</text>
<text transform="translate(922.0,1500.0) scale(0.853,0.905)" text-anchor="middle" font-size="100" font-family="'Liberation Serif', 'Times New Roman', serif" stroke="#fff" stroke-width="1.4">30</text>
<text transform="translate(1221.8,1500.0) scale(0.853,0.905)" text-anchor="middle" font-size="100" font-family="'Liberation Serif', 'Times New Roman', serif" stroke="#fff" stroke-width="1.4">32</text>
<text transform="translate(1521.6,1500.0) scale(0.853,0.905)" text-anchor="middle" font-size="100" font-family="'Liberation Serif', 'Times New Roman', serif" stroke="#fff" stroke-width="1.4">34</text>
<text transform="translate(1821.4,1500.0) scale(0.853,0.905)" text-anchor="middle" font-size="100" font-family="'Liberation Serif', 'Times New Roman', serif" stroke="#fff" stroke-width="1.4">36</text>
<text transform="translate(2121.2,1500.0) scale(0.853,0.905)" text-anchor="middle" font-size="100" font-family="'Liberation Serif', 'Times New Roman', serif" stroke="#fff" stroke-width="1.4">38</text>
<text transform="translate(827.2,1623.3) scale(1.103,1.138)" font-size="100" font-family="'Liberation Serif', 'Times New Roman', serif" stroke="#fff" stroke-width="1.4">Frequency (GHz)</text>
<text transform="translate(109.5,1006.3) rotate(-90) scale(1.128,1.128)" font-size="100" font-family="'Liberation Serif', 'Times New Roman', serif" stroke="#fff" stroke-width="1.4">Coefficients</text>
<text transform="translate(1496.2,434.7) scale(0.775,0.81)" font-size="100" font-family="'Liberation Serif', 'Times New Roman', serif" stroke="#fff" stroke-width="1.4">Theory</text>
<text transform="translate(1690.8,532.7) scale(0.784,0.81)" font-size="100" font-family="'Liberation Serif', 'Times New Roman', serif" stroke="#fff" stroke-width="1.4">Transmission</text>
<text transform="translate(1690.8,629.8) scale(0.776,0.81)" font-size="100" font-family="'Liberation Serif', 'Times New Roman', serif" stroke="#fff" stroke-width="1.4">Reflection</text>
<text transform="translate(1496.2,725.9) scale(0.784,0.81)" font-size="100" font-family="'Liberation Serif', 'Times New Roman', serif" stroke="#fff" stroke-width="1.4">Experiment</text>
<text transform="translate(1690.8,822.7) scale(0.784,0.81)" font-size="100" font-family="'Liberation Serif', 'Times New Roman', serif" stroke="#fff" stroke-width="1.4">Transmission</text>
<text transform="translate(1690.8,919.8) scale(0.776,0.81)" font-size="100" font-family="'Liberation Serif', 'Times New Roman', serif" stroke="#fff" stroke-width="1.4">Reflection</text>
<line x1="1494.5" y1="506.6" x2="1673.5" y2="506.6" stroke="#ff0000" stroke-width="4"/>
<line x1="1494.5" y1="603.5" x2="1673.5" y2="603.5" stroke="#0000ff" stroke-width="4.5"/>
<line x1="1494.5" y1="796.8" x2="1673.5" y2="796.8" stroke="#ff7777" stroke-width="5.5"/>
<circle cx="1584" cy="796.9" r="9" fill="#ff0000"/>
<line x1="1494.5" y1="892.6" x2="1673.5" y2="892.6" stroke="#c0c0ff" stroke-width="3"/>
<line x1="1494.5" y1="894.4" x2="1673.5" y2="894.4" stroke="#1414ff" stroke-width="2.6"/>
<circle cx="1584" cy="894.6" r="8.4" fill="none" stroke="#8c8cff" stroke-width="2.4"/>
</svg>
</body></html>
